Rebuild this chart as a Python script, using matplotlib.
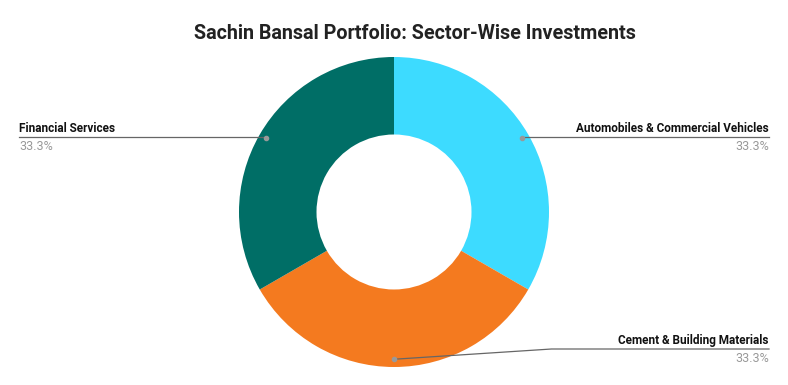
import numpy as np
import matplotlib
matplotlib.use("Agg")
import matplotlib.pyplot as plt

# dados do gráfico
sectors = ["Automobiles & Commercial Vehicles", "Cement & Building Materials", "Financial Services"]
shares = [33.3, 33.3, 33.3]
colors = ["#3ddbff", "#f47a1f", "#006e66"]
title = "Sachin Bansal Portfolio: Sector-Wise Investments"

plt.rcParams["font.family"] = ["Roboto", "DejaVu Sans"]

W, H = 788, 385
fig = plt.figure(figsize=(W / 100, H / 100), dpi=100)
ax = fig.add_axes([0, 0, 1, 1])
ax.set_xlim(0, W)
ax.set_ylim(0, H)
ax.axis("off")

cx, cy, R = 394, H - 212, 155
wedges, _ = ax.pie(shares, colors=colors, startangle=90, counterclock=False,
                   center=(cx, cy), radius=R, wedgeprops=dict(width=R * 0.5, linewidth=0))
ax.set_xlim(0, W)
ax.set_ylim(0, H)
ax.set_aspect("equal")

fig.text(0.527, 0.913, title, ha="center", va="center", fontsize=14.2, fontweight="bold", color="#222222")

# posição dos rótulos (pixels a partir do topo)
label_y = [137, 349, 137]
for w, name, pct, ly in zip(wedges, sectors, shares, label_y):
    ang = np.deg2rad((w.theta1 + w.theta2) / 2)
    px = cx + 0.95 * R * np.cos(ang)
    py = cy + 0.95 * R * np.sin(ang)
    y = H - ly
    if px >= cx:
        xe = 769
        ha = "right"
        xs = [px, px + 0.42 * (xe - px) if abs(py - y) > 3 else px, xe]
    else:
        xe = 19
        ha = "left"
        xs = [px, px, xe]
    ax.plot(xs, [py, y, y], color="#666666", lw=0.9)
    ax.plot(px, py, "o", ms=3, color="#999999")
    ax.text(xe, y + 2, name, ha=ha, va="bottom", fontsize=8.5, fontweight="bold", color="#111111")
    ax.text(xe, y - 3, f"{pct}%", ha=ha, va="top", fontsize=9, color="#999999")

fig.savefig("out.png", dpi=100, facecolor="white")
